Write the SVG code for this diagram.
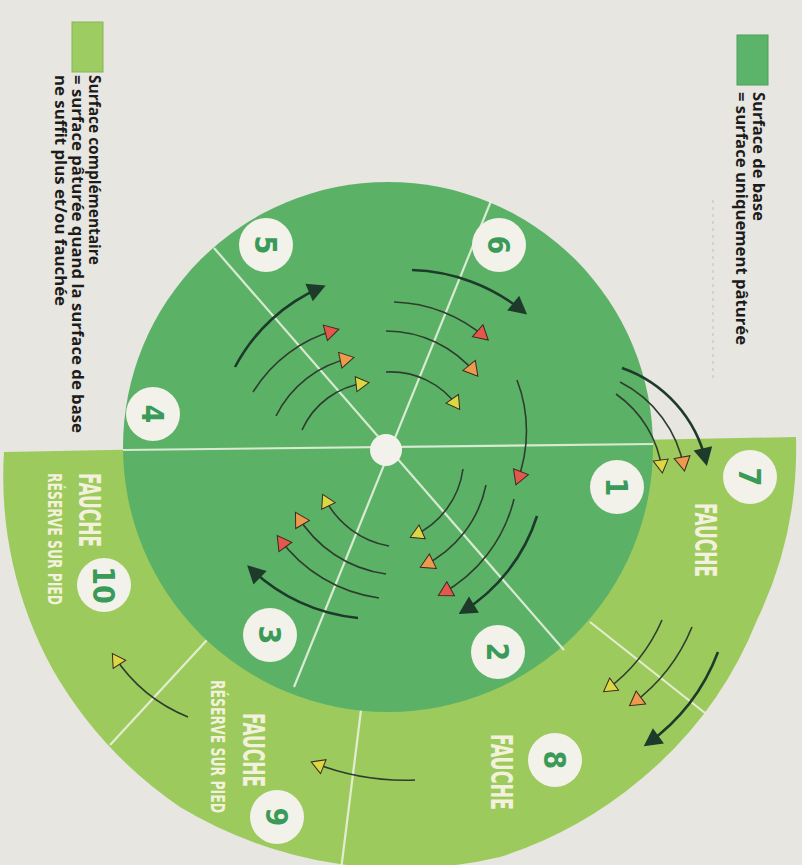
<svg xmlns="http://www.w3.org/2000/svg" width="802" height="865" viewBox="0 0 802 865">
<style>
.num{font-family:"Liberation Sans Narrow","DejaVu Sans Condensed","Liberation Sans",sans-serif;font-weight:bold;font-size:30px;fill:#3a9a58;text-anchor:middle}
.disc{fill:#f2f1ea}
.lab{font-family:"Liberation Sans Narrow","DejaVu Sans Condensed","Liberation Sans",sans-serif;font-weight:bold;fill:#f3f1dc}
.leg{font-family:"Open Sans","Noto Sans","Liberation Sans",sans-serif;font-weight:bold;font-size:16px;fill:#1c1c1c}
.sep{stroke:#eef3e4;stroke-width:2.2;fill:none;opacity:0.85}
.ad{fill:none;stroke:#1d3a2a;stroke-width:2.6}
.ac{fill:none;stroke:#2e3d2e;stroke-width:1.6}
</style>
<defs>
<marker id="hd" viewBox="-1 -11 21 22" refX="14" refY="0" markerWidth="21" markerHeight="22" markerUnits="userSpaceOnUse" orient="auto"><path d="M0,-9.5 L18,0 L0,9.5 Z" fill="#1d3a2a"/></marker>
<marker id="hr" viewBox="-1 -10 18 20" refX="11" refY="0" markerWidth="18" markerHeight="20" markerUnits="userSpaceOnUse" orient="auto"><path d="M0,-8 L14,0 L0,8 Z" fill="#e4574c" stroke="#3a2a22" stroke-width="1"/></marker>
<marker id="ho" viewBox="-1 -10 18 20" refX="11" refY="0" markerWidth="18" markerHeight="20" markerUnits="userSpaceOnUse" orient="auto"><path d="M0,-8 L14,0 L0,8 Z" fill="#eb9a4e" stroke="#3a2a22" stroke-width="1"/></marker>
<marker id="hy" viewBox="-1 -10 18 20" refX="10" refY="0" markerWidth="18" markerHeight="20" markerUnits="userSpaceOnUse" orient="auto"><path d="M0,-7.5 L13,0 L0,7.5 Z" fill="#dcd844" stroke="#3a2a22" stroke-width="1"/></marker>
</defs>
<rect width="802" height="865" fill="#e7e6e0"/>

<g id="legend-base">
<rect x="737" y="35" width="31" height="50" fill="#5cb46a" stroke="#4e9e5a" stroke-width="1"/>
<text class="leg" transform="translate(753,92) rotate(90)" textLength="129" lengthAdjust="spacingAndGlyphs">Surface de base</text>
<text class="leg" transform="translate(735.5,92) rotate(90)" textLength="253" lengthAdjust="spacingAndGlyphs">= surface uniquement pâturée</text>
<line x1="713" y1="200" x2="713" y2="380" stroke="#b9c6a4" stroke-width="1" stroke-dasharray="3 4"/>
</g>
<g id="legend-complementaire">
<rect x="72" y="22" width="31" height="50" fill="#9ccc62" stroke="#88b455" stroke-width="1"/>
<text class="leg" transform="translate(88.5,75) rotate(90)" textLength="190" lengthAdjust="spacingAndGlyphs">Surface complémentaire</text>
<text class="leg" transform="translate(71.5,75) rotate(90)" textLength="358" lengthAdjust="spacingAndGlyphs">= surface pâturée quand la surface de base</text>
<text class="leg" transform="translate(54.5,75) rotate(90)" textLength="231" lengthAdjust="spacingAndGlyphs">ne suffit plus et/ou fauchée</text>
</g>

<g id="surface-complementaire">
<path d="M796,437 A395,395 0 0 1 757,620 A400,400 0 0 1 640,780 A415,415 0 0 1 500,857 A430,430 0 0 1 180,807 A420,420 0 0 1 53,670 A400,400 0 0 1 4,452 Z" fill="#9dca5c"/>
<line class="sep" x1="590" y1="622" x2="705" y2="713"/>
<line class="sep" x1="361" y1="710" x2="341" y2="870"/>
<line class="sep" x1="207" y1="640" x2="110" y2="745"/>
</g>
<g id="surface-base">
<circle cx="388" cy="447" r="265" fill="#5bb267"/>
<line class="sep" x1="123" y1="450" x2="653" y2="444"/>
<line class="sep" x1="214" y1="248" x2="564" y2="650"/>
<line class="sep" x1="491" y1="201" x2="294" y2="687"/>
<circle cx="386" cy="450" r="16" fill="#f2f1ec"/>
</g>

<g id="connectors">
<path class="ad" d="M412,270 A185,185 0 0 1 524,312" marker-end="url(#hd)"/>
<path class="ac" d="M394,302 A146,146 0 0 1 486,338" marker-end="url(#hr)"/>
<path class="ac" d="M386,331 A116,116 0 0 1 476,374" marker-end="url(#ho)"/>
<path class="ac" d="M386,372 A82,82 0 0 1 458,407" marker-end="url(#hy)"/>
<path class="ac" d="M517,380 A142,142 0 0 1 517,482" marker-end="url(#hr)"/>
<path class="ad" d="M537,516 A175,175 0 0 1 462,612" marker-end="url(#hd)"/>
<path class="ac" d="M514,499 A148,148 0 0 1 441,594" marker-end="url(#hr)"/>
<path class="ac" d="M486,485 A116,116 0 0 1 423,566" marker-end="url(#ho)"/>
<path class="ac" d="M463,469 A86,86 0 0 1 413,536" marker-end="url(#hy)"/>
<path class="ad" d="M358,618 A180,180 0 0 1 250,568" marker-end="url(#hd)"/>
<path class="ac" d="M379,598 A148,148 0 0 1 279,538" marker-end="url(#hr)"/>
<path class="ac" d="M386,574 A122,122 0 0 1 297,515" marker-end="url(#ho)"/>
<path class="ac" d="M389,546 A90,90 0 0 1 324,497" marker-end="url(#hy)"/>
<path class="ad" d="M235,367 A175,175 0 0 1 322,287" marker-end="url(#hd)"/>
<path class="ac" d="M253,392 A140,140 0 0 1 336,330" marker-end="url(#hr)"/>
<path class="ac" d="M276,416 A108,108 0 0 1 351,358" marker-end="url(#ho)"/>
<path class="ac" d="M302,430 A80,80 0 0 1 366,383" marker-end="url(#hy)"/>
<path class="ad" d="M622,368 A130,130 0 0 1 706,462" marker-end="url(#hd)"/>
<path class="ac" d="M620,382 A120,120 0 0 1 684,468" marker-end="url(#ho)"/>
<path class="ac" d="M616,394 A110,110 0 0 1 662,470" marker-end="url(#hy)"/>
<path class="ad" d="M718,652 A200,200 0 0 1 647,744" marker-end="url(#hd)"/>
<path class="ac" d="M692,627 A180,180 0 0 1 632,704" marker-end="url(#ho)"/>
<path class="ac" d="M662,620 A170,170 0 0 1 606,690" marker-end="url(#hy)"/>
<path class="ac" d="M415,780 A250,250 0 0 1 314,763" marker-end="url(#hy)"/>
<path class="ac" d="M188,717 A160,160 0 0 1 114,656" marker-end="url(#hy)"/>
</g>

<g id="n1"><circle class="disc" cx="617" cy="487" r="27"/><text class="num" transform="translate(617,487) rotate(90)" y="10.8">1</text></g>
<g id="n2"><circle class="disc" cx="498" cy="652" r="27"/><text class="num" transform="translate(498,652) rotate(90)" y="10.8">2</text></g>
<g id="n3"><circle class="disc" cx="270" cy="635" r="27"/><text class="num" transform="translate(270,635) rotate(90)" y="10.8">3</text></g>
<g id="n4"><circle class="disc" cx="153" cy="414" r="27"/><text class="num" transform="translate(153,414) rotate(90)" y="10.8">4</text></g>
<g id="n5"><circle class="disc" cx="266" cy="245" r="27"/><text class="num" transform="translate(266,245) rotate(90)" y="10.8">5</text></g>
<g id="n6"><circle class="disc" cx="499" cy="245" r="27"/><text class="num" transform="translate(499,245) rotate(90)" y="10.8">6</text></g>
<g id="n7"><circle class="disc" cx="750" cy="477" r="27"/><text class="num" transform="translate(750,477) rotate(90)" y="10.8">7</text>
<text class="lab" font-size="30" transform="translate(706,503) rotate(90)" y="10.8" textLength="74" lengthAdjust="spacingAndGlyphs">FAUCHE</text></g>
<g id="n8"><circle class="disc" cx="555" cy="760" r="27"/><text class="num" transform="translate(555,760) rotate(90)" y="10.8">8</text>
<text class="lab" font-size="30" transform="translate(502,734) rotate(90)" y="10.8" textLength="76" lengthAdjust="spacingAndGlyphs">FAUCHE</text></g>
<g id="n9"><circle class="disc" cx="277" cy="817" r="27"/><text class="num" transform="translate(277,817) rotate(90)" y="10.8">9</text>
<text class="lab" font-size="30" transform="translate(254,713) rotate(90)" y="10.8" textLength="74" lengthAdjust="spacingAndGlyphs">FAUCHE</text>
<text class="lab" font-size="19" transform="translate(218,680) rotate(90)" y="6.8" textLength="133" lengthAdjust="spacingAndGlyphs">RÉSERVE SUR PIED</text></g>
<g id="n10"><circle class="disc" cx="104" cy="585" r="27"/><text class="num" transform="translate(104,585) rotate(90)" y="10.8">10</text>
<text class="lab" font-size="30" transform="translate(90,473) rotate(90)" y="10.8" textLength="74" lengthAdjust="spacingAndGlyphs">FAUCHE</text>
<text class="lab" font-size="19" transform="translate(55,473) rotate(90)" y="6.8" textLength="132" lengthAdjust="spacingAndGlyphs">RÉSERVE SUR PIED</text></g>
</svg>
